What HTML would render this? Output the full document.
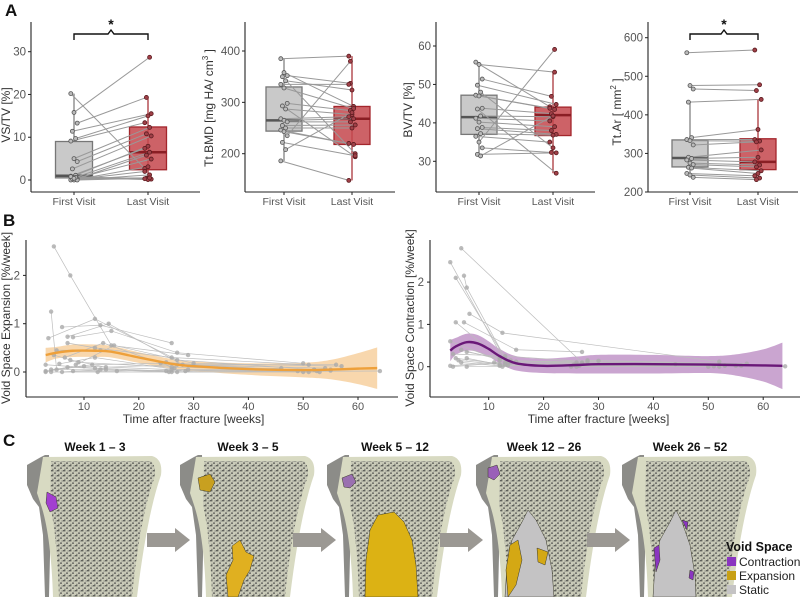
<!DOCTYPE html>
<html><head><meta charset="utf-8"><style>
html,body{margin:0;padding:0;background:#fff;}
svg{display:block;font-family:"Liberation Sans",sans-serif;}
</style></head><body>
<svg id="fig" width="800" height="597" viewBox="0 0 800 597">
<defs>
<pattern id="trab" width="6" height="5" patternUnits="userSpaceOnUse">
<rect width="6" height="5" fill="#c9cab8"/>
<rect x="0" y="0" width="2.4" height="1.4" fill="#5f605b"/>
<rect x="3" y="2.4" width="2" height="1.5" fill="#6d6e68"/>
<rect x="1" y="3.8" width="1.6" height="1" fill="#7e7f78"/>
<rect x="4.5" y="0.4" width="1.3" height="1.2" fill="#8a8b84"/>
</pattern>
</defs>
<g id="root"></g>
</svg>
<script>
// ---------- Panel A data ----------
const vstvFirst=[20.2,15.8,13.3,11.4,9.7,9.1,5.0,4.3,2.6,1.1,0.9,0.5,0.3,0.2,0.1,0,0,0,0.3,0.6,0.8,0.4];
const vstvLast=[2.7,28.7,19.3,15.5,15.0,13.4,12.3,10.8,10.3,7.9,7.4,6.5,5.8,4.9,3.1,2.0,1.2,0.4,0.2,0.1,0.3,0.5];
const vstvBoxFirst=[0,0.5,1.0,9.0,20.2];
const vstvBoxLast=[0,2.4,6.5,12.4,19.3];
const bmdFirst=[385,358,352,350,342,335,328,298,293,287,268,265,262,255,250,246,243,235,222,208,186];
const bmdLast=[390,292,337,200,324,335,288,284,194,276,272,268,262,256,250,220,218,380,196,280,148];
const bmdBoxFirst=[186,244,265,330,385];
const bmdBoxLast=[148,218,268,292,390];
const bvtvFirst=[55.8,55.2,51.4,49.8,48,47.2,47,43.8,43.6,41.8,41.2,40.2,38.8,38.5,37.2,36.5,35,33.5,31.8,31.4];
const bvtvLast=[44.2,53.2,46.9,44.8,33.5,43.8,43.5,42.4,26.9,41.6,40.5,39,38,37,36.8,35,59.1,32.3,32.2,41.8];
const bvtvBoxFirst=[31.4,37,41.5,47.2,55.8];
const bvtvBoxLast=[26.9,36.7,42,44.1,53.2];
const tarFirst=[561,476,467,433,341,336,333,322,290,287,283,275,271,264,262,248,244,238];
const tarLast=[568,478,463,440,362,336,332,330,309,290,278,270,265,255,248,242,236,232];
const tarBoxFirst=[238,265,288,335,433];
const tarBoxLast=[232,258,278,338,440];
const ticksVstv=[0,10,20,30];
const ticksBmd=[200,300,400];
const ticksBvtv=[30,40,50,60];
const ticksTar=[200,300,400,500,600];
const visitLabels=["First Visit","Last Visit"];

// ---------- Panel B data ----------
const expSubjects=[
[[3.5,0.7],[12,1.1],[27,0.25],[52,0.05]],
[[4.5,2.6],[7.5,2.0],[15,0.55],[29,0.35]],
[[4,1.25],[5,0.05],[14,0.05]],
[[6,0.93],[13,0.97],[26,0.6]],
[[7,0.73],[14.5,1.0],[28,0.15],[54,0.08]],
[[8,0.72],[15,0.85],[27,0.4],[50,0.18]],
[[7,0.6],[12,0.5],[26,0.3],[51,0.15]],
[[3,0.15],[12,0.08],[25,0.02],[52,0.05]],
[[4,0.0],[12.5,0.0],[26,0.0],[53,0]],
[[5,0.45],[13,0.45],[25,0.2],[50,0.0]],
[[6.5,0.3],[13.5,0.6],[26.5,0.08]],
[[3,0.02],[10,0.12],[26,0.05],[55,0.05]],
[[7.5,0.25],[14,0.1],[27,0.15],[56,0.15]],
[[6,0.0],[13,0.05],[25.5,0.0],[49,0.02]],
[[4,0.05],[11.5,0.15],[24,0.18],[52.5,0.02]],
[[8.5,0.15],[15.5,0.55],[30,0.18],[57,0.12]],
[[5.5,0.17],[12,0.3],[28.5,0.02],[46,0.08]],
[[3,0.0],[7,0.1],[27,0.0],[64,0.02]],
[[8,0.02],[16,0.02],[29,0.05],[51,0.0]],
[[4.5,0.35],[9,0.2],[26,0.1],[55,0.03]]];
const expSmoothT=[3,5,8,12,15,20,26,30,40,50,55,60,63.5];
const expSmoothV=[0.35,0.4,0.44,0.44,0.42,0.3,0.17,0.12,0.06,0.04,0.05,0.07,0.08];
const expCI=[0.15,0.12,0.13,0.13,0.12,0.11,0.1,0.1,0.12,0.15,0.2,0.32,0.43];
const conSubjects=[
[[3,2.47],[13,0.1]],
[[5,2.8],[27,0.1]],
[[4,2.1],[13.5,0.1]],
[[5.5,2.15],[6,1.87],[13,0.2]],
[[6.5,1.25],[12.5,0.8],[52,0.12]],
[[4,1.05],[12,0.2]],
[[5.5,1.05],[15,0.4],[27,0.35]],
[[3,0.6],[12,0.15],[26,0.1],[52,0.05]],
[[3.5,0.3],[13,0.25],[28,0.12],[53,0.02]],
[[5,0.4],[14,0.1],[26,0.05],[50,0.0]],
[[6,0.2],[12,0.05],[25,0.0],[55,0.02]],
[[3,0.02],[11,0.1],[27,0.08],[44,0.06]],
[[4.5,0.15],[13.5,0.03],[26.5,0.02],[51,0.01]],
[[6,0.0],[12.5,0.0],[28,0.15],[57,0.07]],
[[3.5,0.0],[15,0.12],[30,0.14],[64,0.01]],
[[5,0.1],[12,0.02],[25.5,0.05],[53,0.03]],
[[6,0.35],[14,0.15],[27,0.08],[56,0.02]],
[[4,0.2],[13,0.05],[26,0.0],[52,0.0]]];
const conSmoothT=[3,4,6,8,10,12,15,20,26,30,40,50,55,60,63.5];
const conSmoothV=[0.38,0.48,0.58,0.55,0.42,0.25,0.08,0.02,0.04,0.06,0.06,0.05,0.04,0.03,0.02];
const conCI=[0.25,0.2,0.2,0.2,0.18,0.17,0.17,0.17,0.2,0.22,0.22,0.2,0.25,0.38,0.55];
const weekTicks=[10,20,30,40,50,60];
const expTicks=[0,1,2];
const conTicks=[0,1,2];

const NS="http://www.w3.org/2000/svg";
const root=document.getElementById('root');
function mk(tag,attrs,parent,txt){const e=document.createElementNS(NS,tag);for(const k in attrs)e.setAttribute(k,attrs[k]);if(txt!==undefined)e.textContent=txt;(parent||root).appendChild(e);return e;}
function lin(d0,d1,r0,r1){return v=>r0+(v-d0)*(r1-r0)/(d1-d0);}

// ---------- Panel A ----------
function boxPlot(cfg){
  const g=mk('g',{});
  
  
  const y=lin(cfg.t0,cfg.t1,cfg.y0,cfg.y1);
  const ax=mk('line',{x1:cfg.ax,y1:cfg.top,x2:cfg.ax,y2:192,stroke:'#222','stroke-width':1.1},g);
  
  const bx=mk('line',{x1:cfg.ax,y1:192,x2:cfg.axEnd,y2:192,stroke:'#222','stroke-width':1.1},g);
  
  cfg.ticks.forEach(t=>{
    mk('line',{x1:cfg.ax-3,y1:y(t),x2:cfg.ax,y2:y(t),stroke:'#222'},g);
    const tl=mk('text',{x:cfg.ax-5,y:y(t)+4,'text-anchor':'end','font-size':11.5,fill:'#555'},g,t);
    
  });
  cfg.centers.forEach((c,i)=>{
    mk('line',{x1:c,y1:192,x2:c,y2:195,stroke:'#222'},g);
    const xl=mk('text',{x:c,y:205,'text-anchor':'middle','font-size':10.5,fill:'#555'},g,visitLabels[i]);
    
  });
  const yl=mk('text',{transform:`translate(${cfg.lx},${cfg.ly}) rotate(-90)`,'text-anchor':'middle','font-size':12,fill:'#333'},g);
  
  yl.innerHTML=cfg.label;
  const boxes=[cfg.bf,cfg.bl],cols=[['#c9c9c9','#777','#555'],['#c4464c','#a3262c','#8a1e24']];
  boxes.forEach((b,i)=>{
    const c=cfg.centers[i],w=cfg.bw;
    const wl=mk('line',{x1:c,y1:y(b[0]),x2:c,y2:y(b[4]),stroke:cols[i][1],'stroke-width':1.2},g);
    
    const r=mk('rect',{x:c-w/2,y:y(b[3]),width:w,height:y(b[1])-y(b[3]),fill:cols[i][0],'fill-opacity':i?0.85:1,stroke:cols[i][1],'stroke-width':1.3},g);
    
    mk('line',{x1:c-w/2,y1:y(b[2]),x2:c+w/2,y2:y(b[2]),stroke:cols[i][2],'stroke-width':2.5},g);
  });
  const n=Math.min(cfg.f.length,cfg.l.length);
  for(let i=0;i<n;i++){
    const jf=((i*7)%5-2)*1.6,jl=((i*3)%5-2)*1.6;
    const pl=mk('line',{x1:cfg.centers[0]+jf,y1:y(cfg.f[i]),x2:cfg.centers[1]+jl,y2:y(cfg.l[i]),stroke:'#999','stroke-width':1},g);
    
  }
  cfg.f.forEach((v,i)=>{const jf=((i*7)%5-2)*1.6;const p=mk('circle',{cx:cfg.centers[0]+jf,cy:y(v),r:2,fill:'#bbb',stroke:'#555','stroke-width':0.8},g);});
  cfg.l.forEach((v,i)=>{const jl=((i*3)%5-2)*1.6;const p=mk('circle',{cx:cfg.centers[1]+jl,cy:y(v),r:2,fill:'#a04048',stroke:'#5a1a1e','stroke-width':0.8},g);});
  if(cfg.sig){
    const [a,b]=cfg.centers;
    const s=mk('path',{d:`M${a},40 L${a},34 L${(a+b)/2-3},34 L${(a+b)/2},30 L${(a+b)/2+3},34 L${b},34 L${b},40`,fill:'none',stroke:'#111','stroke-width':1.4},g);
    
    const st=mk('text',{x:(a+b)/2,y:29,'text-anchor':'middle','font-size':14,'font-weight':'bold',fill:'#111'},g,'*');
    
  }
}
boxPlot({name:'vstv-plot',ax:31,axEnd:200,top:22,t0:0,t1:30,y0:180,y1:51.7,ticks:ticksVstv,centers:[74,148],bw:37,f:vstvFirst,l:vstvLast,bf:vstvBoxFirst,bl:vstvBoxLast,lx:10,ly:115,label:'VS/TV [%]',sig:true});
boxPlot({name:'bmd-plot',ax:245,axEnd:395,top:22,t0:200,t1:400,y0:153.7,y1:51,ticks:ticksBmd,centers:[284,352],bw:36,f:bmdFirst,l:bmdLast,bf:bmdBoxFirst,bl:bmdBoxLast,lx:213,ly:108,label:'Tt.BMD [mg HA/ cm<tspan dy="-5" font-size="8">3</tspan><tspan dy="5"> ]</tspan>',sig:false});
boxPlot({name:'bvtv-plot',ax:436,axEnd:595,top:22,t0:30,t1:60,y0:161.3,y1:46,ticks:ticksBvtv,centers:[479,553],bw:36,f:bvtvFirst,l:bvtvLast,bf:bvtvBoxFirst,bl:bvtvBoxLast,lx:412,ly:110,label:'BV/TV [%]',sig:false});
boxPlot({name:'ttar-plot',ax:648,axEnd:798,top:22,t0:200,t1:600,y0:192,y1:37.7,ticks:ticksTar,centers:[690,758],bw:36,f:tarFirst,l:tarLast,bf:tarBoxFirst,bl:tarBoxLast,lx:621,ly:112,label:'Tt.Ar [ mm<tspan dy="-5" font-size="8">2</tspan><tspan dy="5"> ]</tspan>',sig:true});

// ---------- Panel B ----------
function smoothPath(pts){
  let d=`M${pts[0][0]},${pts[0][1]}`;
  for(let i=0;i<pts.length-1;i++){
    const p0=pts[i-1]||pts[i],p1=pts[i],p2=pts[i+1],p3=pts[i+2]||p2;
    d+=` C${p1[0]+(p2[0]-p0[0])/6},${p1[1]+(p2[1]-p0[1])/6} ${p2[0]-(p3[0]-p1[0])/6},${p2[1]-(p3[1]-p1[1])/6} ${p2[0]},${p2[1]}`;
  }
  return d;
}
function timePlot(cfg){
  const g=mk('g',{});
  
  
  const x=lin(0,10,cfg.x0,cfg.x10),y=lin(0,1,cfg.yz,cfg.y1);
  const T=cfg.st.map(x),U=cfg.st.map((t,i)=>y(cfg.sv[i]+cfg.ci[i])),L=cfg.st.map((t,i)=>y(cfg.sv[i]-cfg.ci[i]));
  const up=T.map((t,i)=>[t,U[i]]),lo=T.map((t,i)=>[t,L[i]]).reverse();
  let dBand=smoothPath(up)+' L'+lo[0][0]+','+lo[0][1]+smoothPath(lo).replace(/^M[^C]*/,'')+' Z';
  const band=mk('path',{d:dBand,fill:cfg.band,'fill-opacity':cfg.bo},g);
  
  cfg.subs.forEach(s=>{
    const l=mk('polyline',{points:s.map(p=>x(p[0])+','+y(p[1])).join(' '),fill:'none',stroke:'#bdbdbd','stroke-width':0.7},g);
    
  });
  cfg.subs.forEach(s=>s.forEach(p=>{
    const c=mk('circle',{cx:x(p[0]),cy:y(p[1]),r:2.2,fill:'#aaa','fill-opacity':0.8},g);
    
  }));
  const sm=mk('path',{d:smoothPath(cfg.st.map((t,i)=>[x(t),y(cfg.sv[i])])),fill:'none',stroke:cfg.line,'stroke-width':2.4},g);
  
  const ya=mk('line',{x1:cfg.ax,y1:240,x2:cfg.ax,y2:397,stroke:'#222','stroke-width':1.1},g);
  
  const xa=mk('line',{x1:cfg.ax,y1:397,x2:cfg.ax+372,y2:397,stroke:'#222','stroke-width':1.1},g);
  
  cfg.yt.forEach(t=>{mk('line',{x1:cfg.ax-3,y1:y(t),x2:cfg.ax,y2:y(t),stroke:'#222'},g);
    const tl=mk('text',{x:cfg.ax-6,y:y(t)+4,'text-anchor':'end','font-size':11.5,fill:'#555'},g,t);});
  weekTicks.forEach(t=>{mk('line',{x1:x(t),y1:397,x2:x(t),y2:400,stroke:'#222'},g);
    const tl=mk('text',{x:x(t),y:410,'text-anchor':'middle','font-size':11,fill:'#555'},g,t);});
  const xt=mk('text',{x:x(30),y:423,'text-anchor':'middle','font-size':12,fill:'#333'},g,'Time after fracture [weeks]');
  
  const yl=mk('text',{transform:`translate(${cfg.ax-16},318) rotate(-90)`,'text-anchor':'middle','font-size':12,fill:'#333'},g,cfg.label);
  
}
timePlot({name:'expansion-plot',ax:26,x0:29.2,x10:84,yz:372,y1:323.7,subs:expSubjects,st:expSmoothT,sv:expSmoothV,ci:expCI,band:'#f5c68a',bo:0.7,line:'#eea03a',yt:expTicks,label:'Void Space Expansion [%/week]'});
timePlot({name:'contraction-plot',ax:430,x0:433.8,x10:488.7,yz:366.7,y1:324.4,subs:conSubjects,st:conSmoothT,sv:conSmoothV,ci:conCI,band:'#b887c0',bo:0.75,line:'#6a1878',yt:conTicks,label:'Void Space Contraction [%/week]'});

// ---------- Panel letters ----------
[['A',5,16],['B',3,226],['C',3,446]].forEach(a=>{const t=mk('text',{x:a[1],y:a[2],'font-size':17,'font-weight':'bold',fill:'#111'},root,a[0]);});

// ---------- Panel C ----------
const weekTitles=['Week 1 – 3','Week 3 – 5','Week 5 – 12','Week 12 – 26','Week 26 – 52'];
const boneX=[27,180,327,476,622];
weekTitles.forEach((w,i)=>{
  const g=mk('g',{transform:`translate(${boneX[i]},455)`});
  
  
  const t=mk('text',{x:68,y:-4,'text-anchor':'middle','font-size':12,'font-weight':'bold',fill:'#111'},g,w);
  
  mk('path',{d:'M0,10 L14,2 L18,0 L22,0 L24,60 L22,142 L18,142 L16,80 L12,52 L6,44 L0,30 Z',fill:'#8c8c88'},g);
  mk('path',{d:'M16,2 L125,1 Q136,4 134,20 Q120,60 110,142 L26,142 Q24,80 14,50 L10,38 Z',fill:'#d8dac2'},g);
  mk('path',{d:'M24,6 L124,6 Q130,12 127,24 Q113,62 105,142 L32,142 Q30,80 23,50 Z',fill:'url(#trab)'},g);
});
function blob(d,fill,name){const p=mk('path',{d:d,fill:fill,stroke:'#3a3a2a','stroke-width':0.5});}
blob('M47,492 L56,497 L58,508 L50,512 L46,503 Z','#a23fd0','contraction-region');
blob('M198,478 L210,474 L215,482 L210,492 L200,490 Z','#c8a020','expansion-region');
blob('M232,546 L240,540 L246,552 L254,556 L250,570 L244,580 L238,597 L228,597 L226,575 L233,560 Z','#e0b020','expansion-region');
blob('M342,478 L352,474 L356,482 L350,488 L344,487 Z','#9a70b0','contraction-region');
blob('M378,515 L394,512 L404,522 L412,540 L416,565 L418,597 L365,597 L366,560 L370,530 Z','#dcb214','expansion-region');
blob('M488,468 L497,465 L500,474 L494,480 L488,477 Z','#9a60b8','contraction-region');
blob('M528,510 L536,520 L546,540 L552,570 L554,597 L505,597 L507,565 L512,540 L522,522 Z','#c4c3c4','static-region');
blob('M510,545 L518,540 L522,560 L516,585 L508,597 L506,570 Z','#d4a814','expansion-region');
blob('M537,548 L548,552 L545,565 L538,562 Z','#d4a814','expansion-region');
blob('M676,510 L682,522 L690,545 L695,575 L696,597 L653,597 L655,565 L660,540 L670,522 Z','#c4c3c4','static-region');
blob('M654,548 L659,545 L660,560 L656,572 Z','#8a35c0','contraction-region');
blob('M682,520 L688,522 L687,530 Z','#8a35c0','contraction-region');
blob('M690,570 L694,572 L693,580 L689,578 Z','#8a35c0','contraction-region');
[147,293,440,587].forEach(ax=>{
  const a=mk('path',{d:`M${ax},533 L${ax+28},533 L${ax+28},528 L${ax+43},540 L${ax+28},552 L${ax+28},547 L${ax},547 Z`,fill:'#9b9893'});
  
});
// legend
const lg=mk('g',{});


mk('text',{x:726,y:551,'font-size':12.5,'font-weight':'bold',fill:'#111'},lg,'Void Space');
[['Contraction','#8a35c0'],['Expansion','#c8a014'],['Static','#c4c3c4']].forEach((e,i)=>{
  const r=mk('rect',{x:727,y:557+i*14,width:9,height:9,fill:e[1]},lg);
  
  const t=mk('text',{x:739,y:566+i*14,'font-size':12,fill:'#222'},lg,e[0]);
  
});
</script>
</body></html>
